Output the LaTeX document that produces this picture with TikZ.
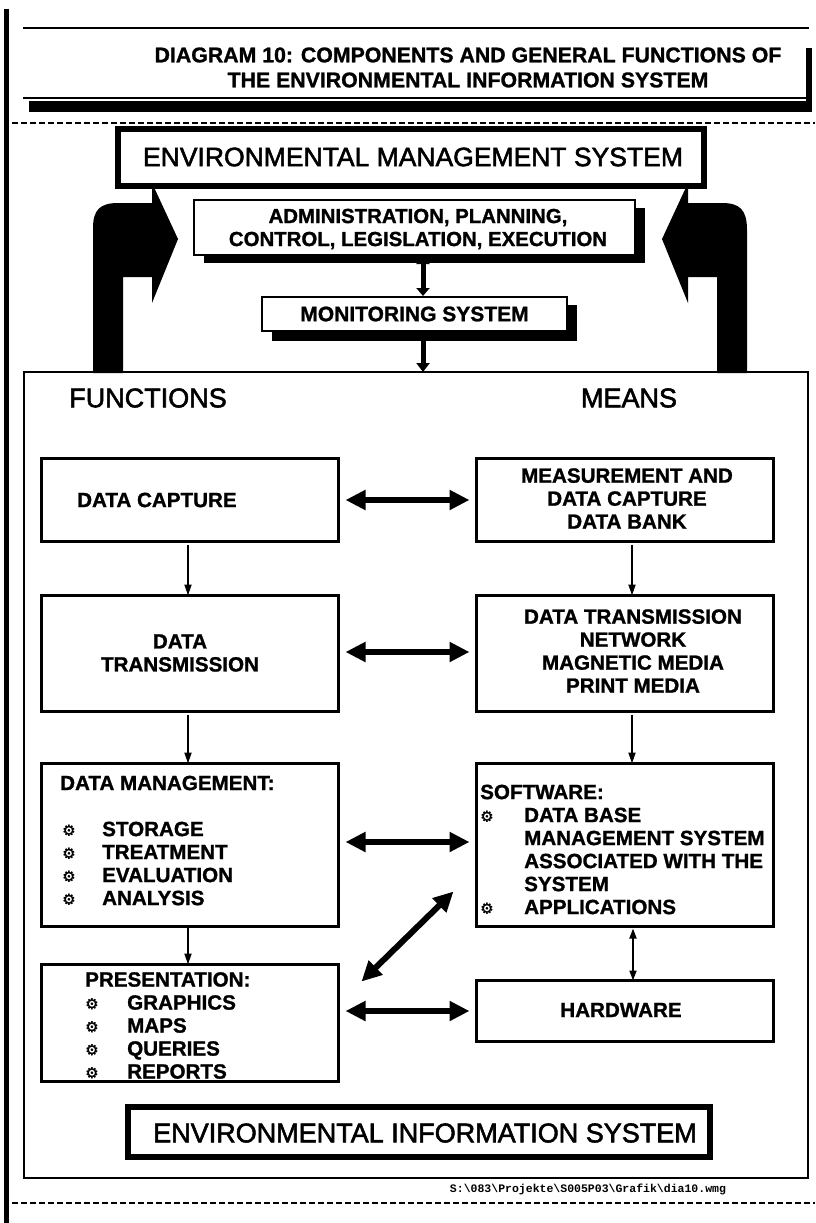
\documentclass[tikz,border=0pt]{standalone}
\usepackage{fontspec}
\setmainfont{Liberation Sans}
\newfontfamily\heavyfont{Liberation Sans}[BoldFeatures={FakeBold=1.2}]
\newfontfamily\mediumfont{Liberation Sans}[FakeBold=2]
\newfontfamily\symfont{DejaVu Sans}[FakeBold=1]
\newfontfamily\pathfont{Liberation Mono}
\usetikzlibrary{arrows.meta,shadows,calc}

% bullet used in the lists
\newcommand\sunbul{\raisebox{0.5pt}{\symfont\fontsize{15pt}{15pt}\selectfont ⚙}}
\newcommand\bitem[1][42pt]{\makebox[#1][l]{\sunbul}}

\begin{document}
\begin{tikzpicture}[x=1pt,y=-1pt,
  fnbox/.style={draw, line width=2.6pt, fill=white, inner sep=0pt, outer sep=0pt},
  heavybox/.style={draw, line width=6pt, fill=white, inner sep=0pt, outer sep=0pt},
  shadowbox/.style={draw, line width=2pt, fill=white, inner sep=0pt, outer sep=0pt,
     drop shadow={shadow xshift=10pt, shadow yshift=-8pt, fill=black, opacity=1}},
  btxt/.style={font=\heavyfont\fontsize{20.6pt}{23pt}\selectfont\bfseries, inner sep=0pt},
  bigtxt/.style={font=\mediumfont\fontsize{26.5pt}{30pt}\selectfont, inner sep=0pt},
  headtxt/.style={font=\mediumfont\fontsize{27pt}{30pt}\selectfont, inner sep=0pt},
  thinarrow/.style={line width=1.8pt, -{Triangle[length=11pt,width=7pt]}},
  thindbl/.style={line width=1.8pt, {Triangle[length=10pt,width=7pt]}-{Triangle[length=10pt,width=7pt]}},
  bigdbl/.style={line width=6pt, {Triangle[length=20pt,width=19pt]}-{Triangle[length=20pt,width=19pt]}},
  smalldbl/.style={line width=5pt, {Triangle[length=8pt,width=13pt]}-{Triangle[length=8pt,width=13pt]}},
  smallarr/.style={line width=5pt, -{Triangle[length=9pt,width=13pt]}},
  rule/.style={line width=1.6pt, dash pattern=on 6pt off 3pt}
]
\useasboundingbox (0,0) rectangle (815,1223);

% page rules
\draw[line width=4.5pt] (6.5,9) -- (6.5,1223);
\draw[rule] (12,123) -- (815,123);
\draw[rule] (12,1203) -- (815,1203);

% title frame
\draw[line width=1.4pt] (23,28) -- (809,28);
\draw[line width=1.4pt] (23,98) -- (806,98);
\fill (29,101) rectangle (812,112);
\fill (806,48) rectangle (812,112);
\node[font=\heavyfont\fontsize{21.3pt}{25pt}\selectfont\bfseries, inner sep=0pt, align=center] (title) at (468,67.5)
  {DIAGRAM 10: COMPONENTS AND GENERAL FUNCTIONS OF\\THE ENVIRONMENTAL INFORMATION SYSTEM};

% outer frame of the information system
\node[draw, line width=1.8pt, inner sep=0pt, outer sep=0pt, minimum width=784pt, minimum height=806pt] (main) at (416,775) {};

% feedback hooks into the administration level
\fill (93,373) -- (93,228) .. controls (93,210) and (100,203) .. (118,203) -- (152,203) -- (152,183)
  -- (178,239) -- (152,303) -- (152,277) -- (123,277) -- (123,373) -- cycle;
\fill (747,373) -- (747,230) .. controls (747,210) and (740,203) .. (722,203) -- (688,203) -- (688,183)
  -- (662,239) -- (688,303) -- (688,277) -- (717,277) -- (717,373) -- cycle;

% management level
\node[heavybox, minimum width=586pt, minimum height=57pt] (ems) at (411,157.5) {};
\node[bigtxt] (emsT) at (413,157) {ENVIRONMENTAL MANAGEMENT SYSTEM};
\node[shadowbox, minimum width=441pt, minimum height=55pt] (admin) at (414.5,227.5) {};
\node[font=\heavyfont\fontsize{20.4pt}{23pt}\selectfont\bfseries, inner sep=0pt, align=center] (adminT) at (418,229)
  {ADMINISTRATION, PLANNING,\\CONTROL, LEGISLATION, EXECUTION};
\node[shadowbox, minimum width=305pt, minimum height=34pt,
  drop shadow={shadow xshift=10pt, shadow yshift=-10pt, fill=black, opacity=1}] (mon) at (414.5,314) {};
\node[font=\heavyfont\fontsize{21pt}{24pt}\selectfont\bfseries, inner sep=0pt] (monT) at (414.5,314) {MONITORING SYSTEM};

\coordinate (ax) at ($(admin.south)+(8.5,1)$);
\coordinate (mx) at ($(mon.north)+(8.5,-1)$);
\draw[smalldbl] (ax) -- (mx);
\coordinate (my) at ($(mon.south)+(8.5,8)$);
\draw[smallarr] (my) -- (my |- main.north);

% column headings
\node[headtxt] (fn) at (148,398) {FUNCTIONS};
\node[headtxt] (mn) at (629,398) {MEANS};

% functions column
\node[fnbox, minimum width=297pt, minimum height=83pt] (dc) at (190,500) {};
\node[btxt, anchor=west] (dcT) at (77,500) {DATA CAPTURE};
\node[fnbox, minimum width=297pt, minimum height=116pt] (dt) at (190,653.5) {};
\node[btxt, align=center] (dtT) at (180,653) {DATA\\TRANSMISSION};
\node[fnbox, minimum width=297pt, minimum height=163pt] (dm) at (190,845) {};
\node[btxt, align=left, anchor=west] (dmT) at (60,840.5)
  {DATA MANAGEMENT:\\[23pt]\hspace*{2pt}\bitem[40pt]STORAGE\\\hspace*{2pt}\bitem[40pt]TREATMENT\\
   \hspace*{2pt}\bitem[40pt]EVALUATION\\\hspace*{2pt}\bitem[40pt]ANALYSIS};
\node[fnbox, minimum width=297pt, minimum height=117pt] (pres) at (190,1023) {};
\node[btxt, align=left, anchor=west] (presT) at (85,1025.5)
  {PRESENTATION:\\\bitem GRAPHICS\\\bitem MAPS\\\bitem QUERIES\\\bitem REPORTS};

% means column
\node[fnbox, minimum width=297pt, minimum height=83pt] (mea) at (625,500) {};
\node[btxt, align=center] (meaT) at (627,498.5) {MEASUREMENT AND\\DATA CAPTURE\\DATA BANK};
\node[fnbox, minimum width=297pt, minimum height=116pt] (dtn) at (625,653.5) {};
\node[btxt, align=center] (dtnT) at (633,651) {DATA TRANSMISSION\\NETWORK\\MAGNETIC MEDIA\\PRINT MEDIA};
\node[fnbox, minimum width=297pt, minimum height=163pt] (sw) at (625,845) {};
\node[btxt, align=left, anchor=west] (swT) at (480,849.5)
  {SOFTWARE:\\\bitem[44pt]DATA BASE\\\hspace*{44pt}MANAGEMENT SYSTEM\\\hspace*{44pt}ASSOCIATED WITH THE\\
   \hspace*{44pt}SYSTEM\\\bitem[44pt]APPLICATIONS};
\node[fnbox, minimum width=297pt, minimum height=61pt] (hw) at (625,1011) {};
\node[btxt] (hwT) at (621,1010) {HARDWARE};

% system name
\node[heavybox, minimum width=582pt, minimum height=50pt] (eis) at (419,1132) {};
\node[headtxt] (eisT) at (425,1133) {ENVIRONMENTAL INFORMATION SYSTEM};

% flows down each column
\draw[thinarrow, shorten <=3pt] ([xshift=-2pt]dc.south) -- ([xshift=-2pt]dt.north);
\draw[thinarrow, shorten <=3pt] ([xshift=-2pt]dt.south) -- ([xshift=-2pt]dm.north);
\draw[thinarrow, shorten <=1pt] ([xshift=-2pt]dm.south) -- ([xshift=-2pt]pres.north);
\draw[thinarrow, shorten <=3pt] ([xshift=7pt]mea.south) -- ([xshift=7pt]dtn.north);
\draw[thinarrow, shorten <=3pt] ([xshift=7pt]dtn.south) -- ([xshift=7pt]sw.north);
\draw[thindbl, shorten <=2pt] ([xshift=8pt]sw.south) -- ([xshift=8pt]sw.south |- hw.north);

% links between functions and means
\draw[bigdbl, shorten <=7pt, shorten >=7pt] (dc.east) -- (mea.west);
\draw[bigdbl, shorten <=7pt, shorten >=7pt] ([yshift=1.5pt]dt.east) -- ([yshift=1.5pt]dtn.west);
\draw[bigdbl, shorten <=7pt, shorten >=7pt] ([yshift=3pt]dm.east) -- ([yshift=3pt]sw.west);
\draw[bigdbl, shorten <=7pt, shorten >=7pt] (hw.west -| pres.east) -- (hw.west);
\draw[bigdbl] ($(pres.north east)+(23,17)$) -- ($(sw.south west)+(-23,-35)$);

% file reference
\node[font=\pathfont\fontsize{11.5pt}{12pt}\selectfont\bfseries, inner sep=0pt] (path) at (588,1189)
  {S:\textbackslash 083\textbackslash Projekte\textbackslash S005P03\textbackslash Grafik\textbackslash dia10.wmg};
\end{tikzpicture}
\end{document}
